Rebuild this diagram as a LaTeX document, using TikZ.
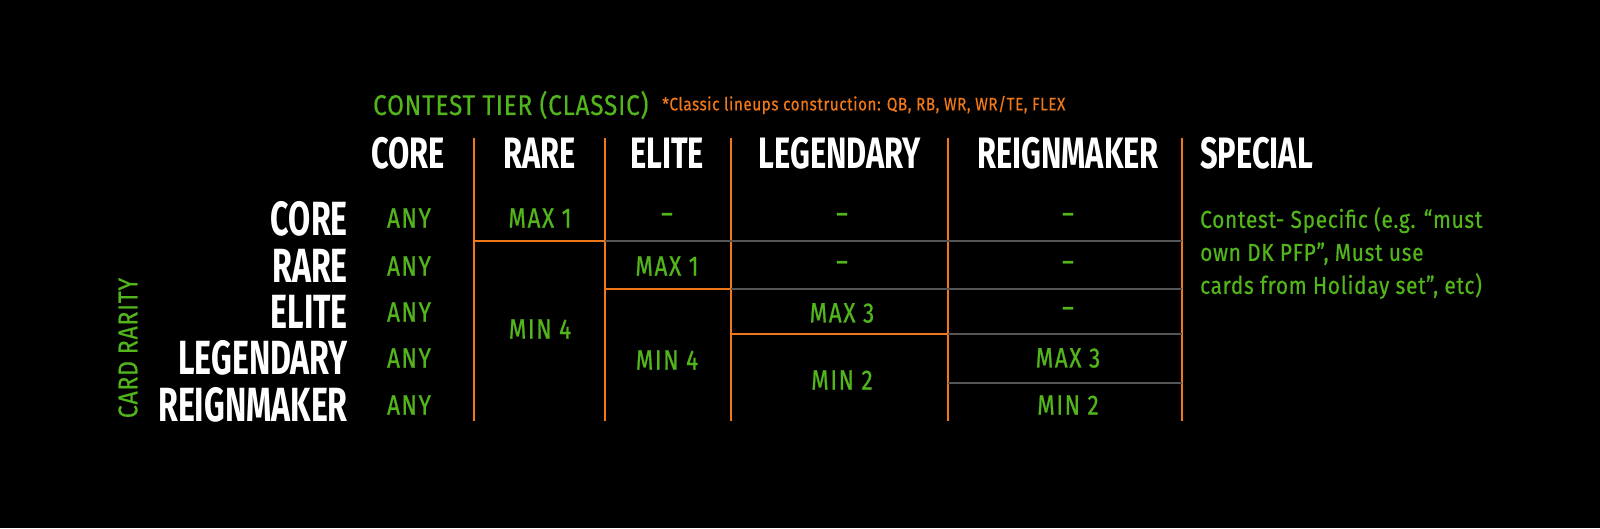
\documentclass[tikz,border=0pt]{standalone}
\usepackage{fontspec}
\newfontfamily\hdr{Fira Sans}[FakeStretch=0.7]
\newfontfamily\rlf{Fira Sans}[FakeStretch=0.67]
\newfontfamily\bdy{Fira Sans}[FakeStretch=0.8,LetterSpace=6,FakeBold=0.8]
\newfontfamily\bdz{Fira Sans}[FakeStretch=0.85,LetterSpace=3,FakeBold=0.5]
\definecolor{grn}{HTML}{52B51C}
\definecolor{org}{HTML}{F07818}
\definecolor{gry}{HTML}{555555}
\begin{document}
\begin{tikzpicture}[x=1pt,y=-1pt,
  hd/.style={text=white,font=\hdr\bfseries\fontsize{44}{44}\selectfont,inner sep=0pt},
  rl/.style={text=white,font=\rlf\bfseries\fontsize{48}{48}\selectfont,inner sep=0pt,anchor=east},
  cell/.style={text=grn,font=\bdy\fontsize{28}{28}\selectfont,inner sep=0pt},
  ol/.style={draw=org,line width=2.2pt},
  gl/.style={draw=gry,line width=1.6pt}]
\fill[black] (0,0) rectangle (1600,528);
\useasboundingbox (0,0) rectangle (1600,528);
\foreach \x/\n in {474/a,605/b,731/c,948/d,1182/e}{
  \coordinate (t\n) at (\x,138); \coordinate (b\n) at (\x,421);
  \draw[ol] (t\n) -- (b\n);}
\draw[ol] (474,241) -- (605,241); \draw[gl] (605,241) -- (1182,241);
\draw[ol] (605,289) -- (731,289); \draw[gl] (731,289) -- (1182,289);
\draw[ol] (731,334) -- (948,334); \draw[gl] (948,334) -- (1182,334);
\draw[gl] (948,383) -- (1182,383);
\node[text=grn,font=\bdz\fontsize{28.5}{28.5}\selectfont,anchor=west,inner sep=0pt] (ti) at (373,105) {CONTEST TIER (CLASSIC)};
\node[text=org,font=\bdz\fontsize{18}{18}\selectfont,anchor=west,inner sep=0pt] (fn) at (662,105) {*Classic lineups construction: QB, RB, WR, WR/TE, FLEX};
\node[hd] (h1) at (408,153) {CORE};
\node[hd] (h2) at (540,153) {RARE};
\node[hd] (h3) at (667,153) {ELITE};
\node[hd] (h4) at (840,153) {LEGENDARY};
\node[hd] (h5) at (1068,153) {REIGNMAKER};
\node[hd,anchor=west] (h6) at (1200,153) {SPECIAL};
\node[rl] (r1) at (348,219) {CORE};
\node[rl] (r2) at (348,266) {RARE};
\node[rl] (r3) at (348,312) {ELITE};
\node[rl] (r4) at (348,358) {LEGENDARY};
\node[rl] (r5) at (348,405) {REIGNMAKER};
\node[text=grn,font=\bdz\fontsize{27}{27}\selectfont,rotate=90,inner sep=0pt] (cr) at (128,348) {CARD RARITY};
\foreach \y/\n in {218/1,266/2,312/3,358/4,405/5}{\node[cell] (any\n) at (409,\y) {ANY};}
\node[cell] (c12) at (540,218) {MAX 1};
\node[cell] (c22) at (540,329) {MIN 4};
\node[cell] (c13) at (667,218) {–};
\node[cell] (c23) at (667,266) {MAX 1};
\node[cell] (c33) at (667,360) {MIN 4};
\node[cell] (c14) at (842,218) {–};
\node[cell] (c24) at (842,266) {–};
\node[cell] (c34) at (842,313) {MAX 3};
\node[cell] (c44) at (842,380) {MIN 2};
\node[cell] (c15) at (1068,218) {–};
\node[cell] (c25) at (1068,266) {–};
\node[cell] (c35) at (1068,312) {–};
\node[cell] (c45) at (1068,358) {MAX 3};
\node[cell] (c55) at (1068,405) {MIN 2};
\node[text=grn,font=\bdz\fontsize{24.5}{33}\selectfont,anchor=north west,inner sep=0pt,align=left] (sp) at (1200,207)
 {Contest- Specific (e.g. “must\\own DK PFP”, Must use\\cards from Holiday set”, etc)};
\end{tikzpicture}
\end{document}
